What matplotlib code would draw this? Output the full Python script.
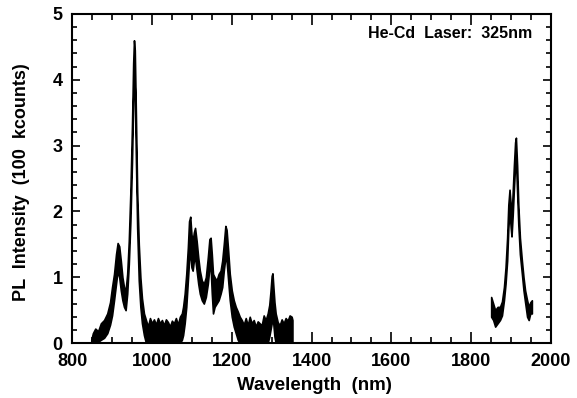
import matplotlib
matplotlib.use("Agg")
import matplotlib.pyplot as plt
from matplotlib.ticker import MultipleLocator

plt.rcParams['font.family'] = ['Liberation Sans', 'DejaVu Sans']
plt.rcParams['font.weight'] = 'bold'

# first band (850-1350 nm): wavelength, upper / lower edge of the noisy trace
wl_a = [848, 852, 858, 865, 872, 880, 888, 895, 900, 905, 910, 914, 918, 922, 926, 930, 934,
        938, 942, 946, 950, 953, 955, 957, 960, 963, 967, 971, 975, 980, 985,
        990, 995, 1000, 1005, 1010, 1015, 1020, 1025, 1030, 1035, 1040, 1045, 1050, 1055,
        1060, 1065, 1070, 1075,
        1078, 1082, 1086, 1090, 1093, 1096, 1099, 1102, 1105, 1108, 1112, 1116, 1120, 1125,
        1130, 1135, 1140, 1144, 1147, 1150, 1153, 1157, 1162, 1167, 1172, 1176, 1180, 1184,
        1187, 1191, 1195, 1200, 1205, 1210, 1215, 1220,
        1225, 1230, 1235, 1240, 1245, 1250, 1255, 1260, 1265, 1270, 1275, 1280, 1285, 1290,
        1294, 1297, 1300, 1302, 1304, 1307, 1310,
        1315, 1320, 1325, 1330, 1335, 1340, 1345, 1350, 1352]
up_a = [0.05, 0.15, 0.22, 0.18, 0.30, 0.35, 0.45, 0.62, 0.85, 1.05, 1.35, 1.52, 1.47, 1.25, 1.00, 0.85, 0.80,
        1.05, 1.55, 2.30, 3.30, 4.25, 4.60, 4.45, 3.40, 2.30, 1.50, 1.00, 0.68, 0.45, 0.35,
        0.25, 0.38, 0.30, 0.36, 0.28, 0.38, 0.30, 0.35, 0.27, 0.36, 0.32, 0.25, 0.34, 0.30,
        0.38, 0.28, 0.40, 0.45,
        0.55, 0.75, 1.05, 1.45, 1.85, 1.92, 1.65, 1.55, 1.68, 1.75, 1.55, 1.30, 1.10, 0.95,
        0.90, 1.00, 1.30, 1.58, 1.60, 1.35, 1.05, 1.00, 0.95, 1.05, 1.10, 1.25, 1.50, 1.78,
        1.72, 1.40, 1.05, 0.80, 0.65, 0.55, 0.48, 0.40,
        0.35, 0.28, 0.38, 0.27, 0.40, 0.30, 0.35, 0.25, 0.33, 0.30, 0.27, 0.42, 0.35, 0.45,
        0.58, 0.78, 1.02, 1.06, 0.88, 0.62, 0.45,
        0.32, 0.27, 0.36, 0.30, 0.38, 0.34, 0.42, 0.40, 0.35]
lo_a = [0.00, 0.00, 0.00, 0.02, 0.05, 0.08, 0.15, 0.28, 0.42, 0.65, 0.90, 1.10, 1.00, 0.80, 0.65, 0.55, 0.50,
        0.75, 1.20, 1.85, 2.75, 3.65, 4.15, 3.85, 2.75, 1.75, 0.95, 0.55, 0.30, 0.12, 0.00,
        0.00, 0.00, 0.00, 0.00, 0.00, 0.00, 0.00, 0.00, 0.00, 0.00, 0.00, 0.00, 0.00, 0.00,
        0.00, 0.00, 0.00, 0.05,
        0.12, 0.30, 0.55, 0.95, 1.25, 1.40, 1.15, 1.10, 1.25, 1.30, 1.10, 0.90, 0.75, 0.65,
        0.60, 0.70, 0.90, 1.15, 1.15, 0.75, 0.45, 0.55, 0.60, 0.65, 0.75, 0.85, 1.10, 1.30,
        1.25, 0.95, 0.65, 0.40, 0.25, 0.15, 0.05, 0.00,
        0.00, 0.00, 0.00, 0.00, 0.00, 0.00, 0.00, 0.00, 0.00, 0.00, 0.00, 0.00, 0.00, 0.00,
        0.10, 0.20, 0.30, 0.50, 0.30, 0.10, 0.00,
        0.00, 0.00, 0.00, 0.00, 0.00, 0.00, 0.00, 0.00, 0.00]

# second band (1850-1950 nm)
wl_b = [1850, 1855, 1860, 1866, 1872, 1877, 1882, 1886, 1890, 1893, 1896, 1899, 1901, 1904,
        1907, 1910, 1912, 1915, 1918, 1922, 1927, 1931, 1935, 1940, 1944, 1948, 1952]
up_b = [0.70, 0.60, 0.50, 0.55, 0.55, 0.63, 0.85, 1.15, 1.60, 2.10, 2.33, 2.10, 1.90, 2.30,
        2.70, 3.05, 3.12, 2.70, 2.10, 1.60, 1.25, 1.00, 0.80, 0.65, 0.55, 0.62, 0.65]
lo_b = [0.40, 0.35, 0.25, 0.30, 0.35, 0.42, 0.65, 0.90, 1.25, 1.75, 2.00, 1.75, 1.62, 1.95,
        2.35, 2.70, 2.80, 2.30, 1.80, 1.35, 1.05, 0.80, 0.62, 0.40, 0.35, 0.45, 0.45]

fig = plt.figure(figsize=(5.77, 3.98), dpi=100)
ax = fig.add_axes([0.125, 0.138, 0.83, 0.827])

for wl, up, lo in [(wl_a, up_a, lo_a), (wl_b, up_b, lo_b)]:
    ax.fill_between(wl, lo, up, color='black', linewidth=1.2, edgecolor='black')

ax.set_xlim(800, 2000)
ax.set_ylim(0, 5)
ax.xaxis.set_major_locator(MultipleLocator(200))
ax.xaxis.set_minor_locator(MultipleLocator(50))
ax.yaxis.set_major_locator(MultipleLocator(1))
ax.yaxis.set_minor_locator(MultipleLocator(0.2))
ax.tick_params(direction='in', top=True, right=True, which='both', width=1.2, labelsize=13)
ax.tick_params(axis='x', which='major', length=8, pad=7)
ax.tick_params(axis='x', which='minor', length=4)
ax.tick_params(axis='y', which='major', length=6, pad=7)
ax.tick_params(axis='y', which='minor', length=3.5)
for s in ax.spines.values():
    s.set_linewidth(1.5)

ax.set_xlabel("Wavelength  (nm)", fontsize=13.5, fontweight='bold')
ax.set_ylabel("PL  Intensity  (100  kcounts)", fontsize=13, fontweight='bold')
ax.xaxis.set_label_coords(0.507, -0.104)
ax.yaxis.set_label_coords(-0.088, 0.488)
ax.text(0.96, 0.942, "He-Cd  Laser:  325nm", transform=ax.transAxes, ha='right', va='center',
        fontsize=11.5, fontweight='bold')

fig.savefig("out.png", dpi=100)
